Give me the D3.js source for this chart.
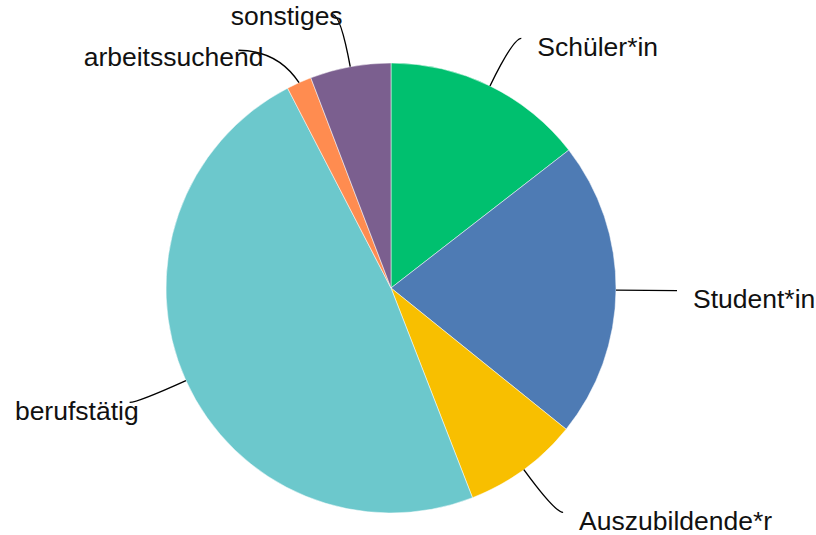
<!DOCTYPE html>
<html>
<head>
<meta charset="utf-8">
<script src="https://cdn.jsdelivr.net/npm/d3@7"></script>
<style>
  body { margin: 0; background: #fff; }
  svg { display: block; }
</style>
</head>
<body>
<svg width="816" height="535"></svg>
<script>
// data (shares in %)
const labels = ["Schüler*in", "Student*in", "Auszubildende*r", "berufstätig", "arbeitssuchend", "sonstiges"];
const values = [14.5, 21.3, 8.3, 48.3, 1.8, 5.8];
const colors = ["#00c06f", "#4e7bb4", "#f8bf00", "#6cc8cc", "#ff8c50", "#7b5f8f"];

const svg = d3.select("svg");
const cx = 391, cy = 288;
const radius = 225;
const labelRadius = 278;

// small hand tweaks so labels don't collide
const nudge = {
  "arbeitssuchend": { outerDy: 16, ext: 31, textDx: 16, textDy: -2 },
  "sonstiges": { textDx: 1, textDy: -7 }
};

const data = labels.map((l, i) => ({ label: l, value: values[i], color: colors[i] }));

const pie = d3.pie().sort(null).value(d => d.value);
const arc = d3.arc().innerRadius(0).outerRadius(radius);
const arcs = pie(data);

const g = svg.append("g").attr("transform", `translate(${cx},${cy})`);

g.selectAll("path.slice")
  .data(arcs).enter()
  .append("path")
  .attr("class", "slice")
  .attr("d", arc)
  .attr("fill", d => d.data.color)
  .attr("stroke", "#fff")
  .attr("stroke-width", 0.5);

function pt(a, r) {
  return [Math.sin(a) * r, -Math.cos(a) * r];
}

function leader(d) {
  const a = (d.startAngle + d.endAngle) / 2;
  const n = nudge[d.data.label] || {};
  const side = Math.sin(a) >= 0 ? 1 : -1;
  const edge = pt(a, radius);
  const outer = pt(a, labelRadius);
  outer[1] += n.outerDy || 0;
  const end = [outer[0] + side * (8 + (n.ext || 0)), outer[1]];
  return { edge, outer, end, side, n };
}

const lines = arcs.map(leader);

g.selectAll("path.leader")
  .data(lines).enter()
  .append("path")
  .attr("class", "leader")
  .attr("fill", "none")
  .attr("stroke", "#000")
  .attr("stroke-width", 1.4)
  .attr("d", l => {
    const p = d3.path();
    p.moveTo(l.edge[0], l.edge[1]);
    p.quadraticCurveTo(l.outer[0], l.outer[1], l.end[0], l.end[1]);
    return p.toString();
  });

g.selectAll("text.label")
  .data(arcs).enter()
  .append("text")
  .attr("class", "label")
  .attr("font-family", "'Liberation Sans', Arial, sans-serif")
  .attr("font-size", 26.5)
  .attr("fill", "#111")
  .attr("text-anchor", (d, i) => lines[i].side > 0 ? "start" : "end")
  .attr("x", (d, i) => {
    const l = lines[i];
    return l.end[0] + (l.side > 0 ? 16 : 9) + (l.n.textDx || 0);
  })
  .attr("y", (d, i) => lines[i].end[1] + 17.5 + (lines[i].n.textDy || 0))
  .text(d => d.data.label);
</script>
</body>
</html>
